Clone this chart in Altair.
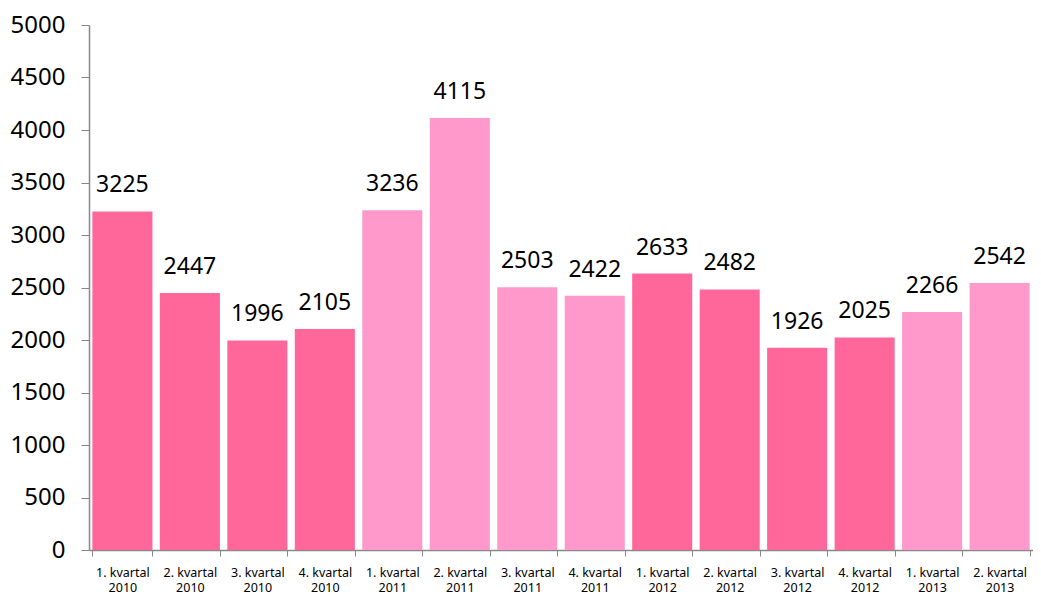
import altair as alt
import pandas as pd

labels = [
    "1. kvartal|2010", "2. kvartal|2010", "3. kvartal|2010", "4. kvartal|2010",
    "1. kvartal|2011", "2. kvartal|2011", "3. kvartal|2011", "4. kvartal|2011",
    "1. kvartal|2012", "2. kvartal|2012", "3. kvartal|2012", "4. kvartal|2012",
    "1. kvartal|2013", "2. kvartal|2013",
]
values = [3225, 2447, 1996, 2105, 3236, 4115, 2503, 2422, 2633, 2482, 1926, 2025, 2266, 2542]
groups = ["a", "a", "a", "a", "b", "b", "b", "b", "a", "a", "a", "a", "b", "b"]

df = pd.DataFrame({"label": labels, "value": values, "group": groups})

FONT = "Noto Sans"

x = alt.X(
    "label:N",
    sort=labels,
    title=None,
    scale=alt.Scale(paddingInner=0.11, paddingOuter=0.05),
    axis=alt.Axis(
        labelAngle=0,
        labelExpr="split(datum.label, '|')",
        labelFontSize=12.5,
        labelLineHeight=15,
        labelColor="black",
        labelFont=FONT,
        labelPadding=10,
        tickBand="extent",
        tickSize=6,
        tickColor="#888888",
        domainColor="#888888",
        domainWidth=1.5,
    ),
)

bars = alt.Chart(df).mark_bar().encode(
    x=x,
    y=alt.Y(
        "value:Q",
        title=None,
        scale=alt.Scale(domain=[0, 5000]),
        axis=alt.Axis(
            values=list(range(0, 5001, 500)),
            format="d",
            grid=False,
            labelFontSize=24,
            labelColor="black",
            labelFont=FONT,
            labelPadding=16,
            tickSize=8,
            tickColor="#888888",
            domainColor="#888888",
            domainWidth=1.5,
        ),
    ),
    color=alt.Color(
        "group:N",
        scale=alt.Scale(domain=["a", "b"], range=["#FF6699", "#FF99CC"]),
        legend=None,
    ),
)

text = alt.Chart(df).mark_text(
    baseline="alphabetic", dy=-19, fontSize=23, font=FONT, color="black"
).encode(
    x=alt.X("label:N", sort=labels),
    y="value:Q",
    text="value:Q",
)

chart = (
    (bars + text)
    .properties(
        width=944,
        height=525,
        autosize=alt.AutoSizeParams(type="none"),
        padding={"left": 81, "top": 17, "right": 0, "bottom": 48},
    )
    .configure_view(stroke=None)
)

chart.save("out.html", embed_options={"renderer": "svg", "actions": False})
